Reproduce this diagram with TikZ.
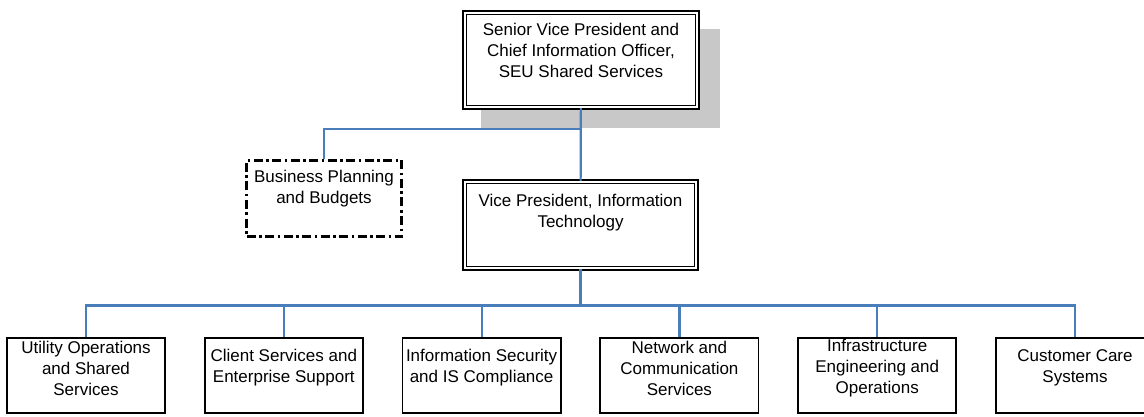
\documentclass[tikz,border=0pt]{standalone}
\usepackage{fontspec}
\setmainfont{Liberation Sans}
\usetikzlibrary{positioning}
\definecolor{linkblue}{RGB}{74,126,187}
\definecolor{shadowgray}{RGB}{200,200,200}

\begin{document}
\begin{tikzpicture}[x=1pt, y=-1pt,
  every node/.style = {align=center, font=\fontsize{17}{21}\selectfont},
  headbox/.style = {draw, fill=white, double, double distance=1.8pt, line width=1.7pt, inner sep=0pt},
  unitbox/.style = {draw, line width=1.8pt, minimum width=158.2pt, minimum height=75.2pt, inner sep=0pt},
  planbox/.style = {draw, line width=3pt, dash pattern=on 9pt off 3.5pt on 2.5pt off 3.5pt,
    minimum width=155pt, minimum height=76pt, inner sep=0pt},
  link/.style = {draw=linkblue, line width=2.2pt},
  level distance=150.5pt, sibling distance=197.8pt,
  edge from parent/.style = {link},
  edge from parent path = {(\tikzparentnode.south) -- ++(0,-36.5pt) -| (\tikzchildnode.north)}]
  \useasboundingbox (0,0) rectangle (1144,417);
  % shadow behind the top box
  \fill[shadowgray] (481,29) rectangle (720,128);
  \node[headbox, minimum width=232.4pt, minimum height=94.4pt] (top) at (581,60) {};
  \node[planbox] (plan) at (324,198.5) {};
  \node[headbox, minimum width=231.4pt, minimum height=86.4pt] (vp) at (580.5,225) {}
    child { node[unitbox] (ops) {} }
    child { node[unitbox] (client) {} }
    child { node[unitbox] (security) {} }
    child { node[unitbox] (network) {} }
    child { node[unitbox] (infra) {} }
    child { node[unitbox] (care) {} }
    ;
  \draw[link] (top) -- (vp);
  \draw[link] (top.south) ++(0,21) -| (plan.north);
  % texts sit a little above the box centres
  \node (top-text) at ([yshift=10pt]top.center) {Senior Vice President and\\Chief Information Officer,\\SEU Shared Services};
  \node (plan-text) at ([yshift=10pt]plan.center) {Business Planning\\and Budgets};
  \node (vp-text) at ([yshift=12pt]vp.center) {Vice President, Information\\Technology};
  \foreach \unit/\txt in {ops/{Utility Operations\\and Shared\\Services},
      client/{Client Services and\\Enterprise Support},
      security/{Information Security\\and IS Compliance},
      network/{Network and\\Communication\\Services},
      infra/{Infrastructure\\Engineering and\\Operations},
      care/{Customer Care\\Systems}}
    \node (\unit-text) at ([yshift=7.5pt]\unit.center) {\txt};
\end{tikzpicture}
\end{document}
